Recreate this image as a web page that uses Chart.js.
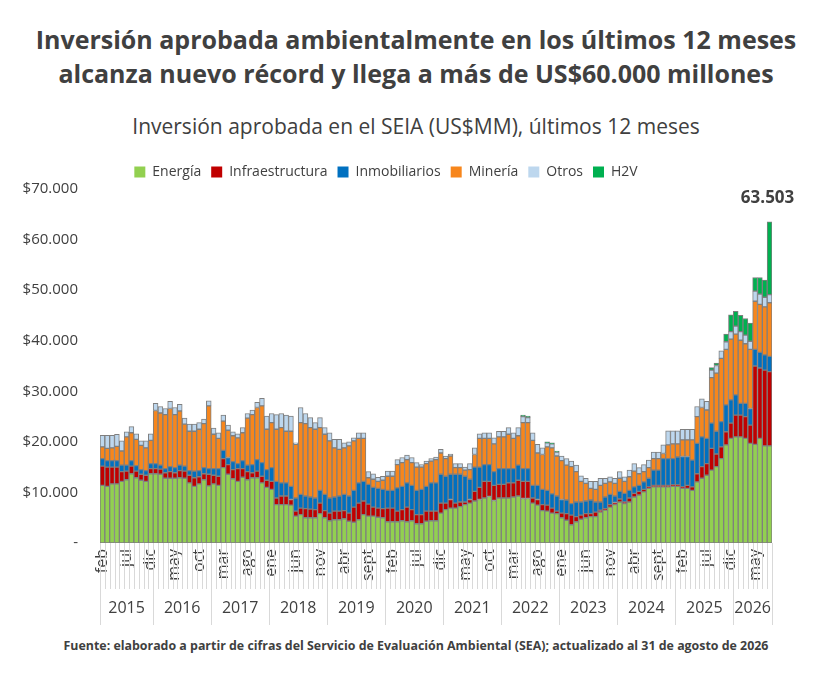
<!DOCTYPE html>
<html><head><meta charset="utf-8">
<script src="https://cdn.jsdelivr.net/npm/chart.js@4"></script>
<style>
body{margin:0;width:832px;height:686px;background:#fff;font-family:"Open Sans",sans-serif;position:relative;overflow:hidden}
#t{position:absolute;top:22px;left:0;width:832px;text-align:center;font-weight:700;font-size:25px;line-height:34px;color:#404040}
#s{position:absolute;top:112px;left:0;width:832px;text-align:center;font-size:21px;color:#404040}
#f{position:absolute;top:637px;left:0;width:832px;text-align:center;font-weight:700;font-size:12.4px;color:#404040}
#w{position:absolute;top:155px;left:0;width:832px;height:475px}
</style></head><body>
<div id="t">Inversión aprobada ambientalmente en los últimos 12 meses<br>alcanza nuevo récord y llega a más de US$60.000 millones</div>
<div id="s">Inversión aprobada en el SEIA (US$MM), últimos 12 meses</div>
<div id="w"><canvas id="c"></canvas></div>
<div id="f">Fuente: elaborado a partir de cifras del Servicio de Evaluación Ambiental (SEA); actualizado al 31 de agosto de 2026</div>
<script>
const monthNames=['ene','feb','mar','abr','may','jun','jul','ago','sept','oct','nov','dic'];
const years=[2015,2016,2017,2018,2019,2020,2021,2022,2023,2024,2025,2026];
const firstMonth=1, nBars=139;
const seriesNames=['Energía','Infraestructura','Inmobiliarios','Minería','Otros','H2V'];
// values in thousands of US$MM
const energia=[11.4,11.2,11.7,11.7,12.2,12.5,13.7,12.9,12.4,12.2,13.7,
13.7,13.6,12.8,12.8,12.8,12.9,12.8,11.9,11.2,11.7,12.5,11.3,11.7,11.4,
14.9,13.6,12.7,12.2,13.0,12.5,12.9,12.9,11.9,11.0,10.6,7.6,7.6,7.6,7.5,5.3,5.6,5.0,5.0,5.0,5.8,5.0,4.4,4.6,
4.6,4.8,4.3,4.1,4.6,5.6,5.3,5.3,5.1,5.0,4.2,4.2,4.2,4.4,4.2,4.4,3.8,3.8,4.3,4.4,4.4,5.9,6.6,6.9,
6.9,7.2,7.6,7.9,8.3,8.6,8.9,9.2,8.4,8.9,8.9,8.9,9.1,9.3,8.8,8.8,7.9,7.5,6.4,6.3,5.9,5.8,5.0,
4.5,3.6,4.2,4.7,5.0,5.2,5.2,6.1,6.5,7.1,7.6,8.1,7.8,8.1,9.1,9.5,10.1,10.8,11.1,11.1,11.1,11.1,11.2,11.2,10.8,10.8,10.4,12.1,12.8,13.4,
14.4,15.1,16.7,19.4,20.7,21.0,21.0,20.7,19.7,19.5,20.7,19.2,19.2];
const infraestructura=[3.8,3.8,3.3,3.3,1.9,1.7,1.5,1.3,1.2,1.2,1.0,
1.0,1.0,1.1,1.3,1.1,1.4,1.4,1.5,1.7,1.4,1.2,2.3,1.7,1.8,
1.8,1.9,1.8,2.5,1.7,1.6,1.0,1.3,1.3,1.4,1.6,1.3,1.7,1.7,1.1,1.0,1.3,1.8,1.7,1.6,2.1,1.4,1.5,1.7,
1.7,1.6,1.6,3.0,3.3,2.7,2.4,1.8,1.8,1.8,2.7,2.7,2.1,2.2,2.9,2.2,1.8,1.8,2.0,1.9,1.9,2.0,1.3,1.7,
1.0,0.9,0.5,0.7,1.9,2.4,3.3,3.0,3.0,2.7,2.7,3.0,2.8,3.1,3.4,3.4,1.0,1.1,1.2,1.2,1.0,0.5,0.9,
1.3,1.9,1.0,0.8,0.8,0.6,0.9,0.4,0.3,0.5,0.4,0.6,0.3,0.8,0.7,0.7,0.5,0.3,0.3,0.3,0.3,0.3,0.3,0.3,0.3,0.6,0.7,1.6,2.3,2.3,
4.3,2.5,2.3,2.6,3.0,4.3,4.3,4.3,3.6,15.5,13.9,15.0,14.7];
const inmobiliarios=[1.5,1.3,1.3,1.3,1.3,1.2,1.1,1.1,0.9,0.9,1.0,
1.0,0.8,0.8,1.0,1.0,1.1,1.0,0.9,1.3,1.2,1.2,1.1,1.3,1.5,
1.6,1.4,1.6,1.0,1.6,1.3,1.6,2.3,2.7,2.1,2.7,3.3,2.6,2.6,2.6,2.6,2.7,2.5,2.4,2.3,2.5,3.2,3.0,2.8,
3.0,3.2,3.4,3.3,4.0,3.9,3.9,3.9,3.9,3.8,3.5,3.5,4.6,4.6,4.8,4.8,4.8,5.0,4.9,5.6,5.6,5.7,5.3,5.0,
5.7,5.5,5.1,4.0,4.8,4.0,3.3,3.3,2.7,3.1,3.1,2.8,2.8,3.0,2.5,2.5,2.5,2.8,3.0,2.9,2.8,3.0,2.7,
2.7,2.3,2.9,2.6,2.5,2.7,2.0,1.6,2.3,2.0,1.3,1.5,1.7,1.5,1.3,1.2,1.5,1.7,3.0,3.0,5.3,5.3,5.2,5.5,6.0,5.7,5.3,6.0,5.9,5.0,
5.0,4.5,5.0,5.3,4.6,4.0,2.3,2.6,3.3,3.3,3.1,3.0,3.0];
const mineria=[2.3,2.4,2.5,2.8,2.8,5.6,5.5,5.2,4.8,4.5,4.6,
10.5,10.3,10.7,11.5,10.5,10.7,8.3,7.8,7.9,8.2,8.7,12.4,6.8,6.0,
5.8,5.4,5.1,5.1,5.5,9.3,9.9,10.3,11.2,8.0,8.9,10.3,10.9,10.2,10.9,10.6,14.2,14.3,13.7,13.6,12.4,11.9,11.3,9.7,
9.2,9.2,9.9,9.8,8.8,8.5,1.3,1.6,1.4,1.8,2.8,2.8,4.6,4.7,4.6,4.5,4.6,4.4,4.5,4.3,4.6,4.2,3.5,3.6,
1.3,1.3,1.2,1.9,2.5,5.7,5.2,5.2,5.5,6.3,6.3,6.8,6.0,5.8,9.1,9.1,8.9,6.4,6.9,8.6,9.1,7.9,7.7,
6.9,7.3,6.0,4.1,3.5,2.3,2.5,3.3,2.7,2.5,2.5,2.6,2.4,2.7,3.1,2.3,2.0,2.1,2.3,2.3,1.0,2.7,2.9,2.6,3.3,3.3,4.0,5.3,5.8,5.6,
9.0,11.5,12.5,11.0,12.0,12.0,12.5,11.8,11.7,9.5,9.5,9.5,10.6];
const otros=[2.3,2.6,2.5,2.4,2.0,1.0,1.2,1.1,0.9,1.4,1.3,
1.4,1.3,1.2,1.4,1.4,1.3,1.2,1.4,1.4,1.3,0.9,1.0,1.2,1.1,
1.2,1.0,0.8,0.8,1.0,0.9,0.9,1.0,1.5,2.6,1.8,2.9,2.8,3.2,3.0,0.3,3.0,2.0,2.0,1.3,2.0,1.3,1.6,1.7,
2.0,1.0,0.8,0.6,1.1,1.1,1.2,1.1,0.8,0.8,1.0,1.0,1.0,1.0,0.9,1.0,0.9,0.5,0.5,0.5,0.5,0.7,0.5,0.4,
0.8,0.8,0.6,1.2,1.3,0.9,1.1,1.1,1.2,1.1,1.1,1.3,1.1,1.6,1.2,1.0,1.5,1.7,1.3,0.8,0.8,0.8,0.9,
1.3,1.1,1.3,1.1,1.0,1.4,1.6,1.4,1.0,1.0,1.0,1.3,0.9,1.3,1.5,1.2,1.4,1.5,1.3,1.3,1.7,2.8,2.6,2.6,2.1,2.1,2.1,2.0,1.7,1.7,
1.5,1.5,1.5,1.5,1.5,1.6,1.7,1.7,1.6,2.0,2.0,1.9,1.6];
const h2v=[0,0,0,0,0,0,0,0,0,0,0,
0,0,0,0,0,0,0,0,0,0,0,0,0,0,
0,0,0,0,0,0,0,0,0,0,0,0,0,0,0,0,0,0,0,0,0,0,0,0,
0,0,0,0,0,0,0,0,0,0,0,0,0,0,0,0,0,0,0,0,0,0,0,0,
0,0,0,0,0,0,0,0,0,0,0,0,0,0,0.3,0.3,0,0,0,0.2,0.2,0.2,0,
0,0,0,0,0,0,0,0,0,0,0,0,0,0,0,0,0,0,0,0,0,0,0,0,0,0,0,0,0,0,
0.5,0.5,0,1.5,3.3,2.9,3.2,3.3,3.6,2.7,3.3,3.4,14.403];
const colors=['#92d050','#c00000','#0070c0','#f7861c','#bdd7ee','#00b050'];

const labels=[];const yearIdx=[];
for(let i=0;i<nBars;i++){const m=(firstMonth+i)%12;const y=years[Math.floor((firstMonth+i)/12)];labels.push(monthNames[m]);yearIdx.push(y);}
const dataSets=[energia,infraestructura,inmobiliarios,mineria,otros,h2v].map((d,k)=>({
 label:seriesNames[k],data:d.map(v=>v*1000),backgroundColor:colors[k],borderColor:'#7f7f7f',borderWidth:1,borderSkipped:false,
 barPercentage:1,categoryPercentage:1}));

const axisDeco={id:'axisDeco',afterDraw(ch){
 const c=ch.ctx,x=ch.scales.x,a=ch.chartArea,b=a.bottom;
 const half=(x.getPixelForValue(1)-x.getPixelForValue(0))/2;
 c.save();c.strokeStyle='#d9d9d9';c.lineWidth=1;
 for(let i=0;i<=nBars;i++){const px=Math.round(x.getPixelForValue(i)-half)+0.5;
  const yr=i===0||i===nBars||yearIdx[i]!==yearIdx[i-1];
  c.beginPath();c.moveTo(px,b);c.lineTo(px,b+(yr?82:46));c.stroke();}
 c.fillStyle='#404040';c.font='16px "Liberation Sans Narrow", "Open Sans", sans-serif';c.textAlign='center';c.textBaseline='middle';
 years.forEach(y=>{const idx=yearIdx.map((v,i)=>v===y?i:-1).filter(i=>i>=0);
  const l=x.getPixelForValue(idx[0])-half,r=x.getPixelForValue(idx[idx.length-1])+half;
  c.fillText(String(y),(l+r)/2,b+65);});
 const last=nBars-1;let tot=0;ch.data.datasets.forEach(d=>tot+=d.data[last]);
 c.font='bold 17px "Open Sans", sans-serif';c.textBaseline='bottom';
 c.fillText(Math.round(tot).toLocaleString('es-CL'),x.getPixelForValue(last)-2,ch.scales.y.getPixelForValue(tot)-15);
 c.restore();}};

new Chart(document.getElementById('c'),{type:'bar',data:{labels,datasets:dataSets},
 options:{responsive:true,maintainAspectRatio:false,animation:false,
  layout:{padding:{left:0,right:60,top:0,bottom:41}},
  plugins:{legend:{position:'top',labels:{boxWidth:11,boxHeight:11,padding:10,color:'#404040',font:{size:14,family:'"Open Sans", sans-serif'},
    generateLabels(ch){return ch.data.datasets.map((d,i)=>({text:d.label,fillStyle:d.backgroundColor,strokeStyle:d.backgroundColor,lineWidth:0,datasetIndex:i,fontColor:'#404040'}));}}},
   tooltip:{enabled:false}},
  scales:{x:{stacked:true,grid:{display:false,drawTicks:false},border:{display:false},
    ticks:{autoSkip:false,maxRotation:90,minRotation:90,padding:6,color:'#404040',font:{size:16,family:'"Open Sans", sans-serif'},
     callback:(v,i)=>i%5===0?labels[i]:''},
    afterFit(s){s.height=46;}},
   y:{stacked:true,min:0,max:70000,grid:{display:false},border:{display:false},
    ticks:{stepSize:10000,padding:14,color:'#404040',font:{size:15,family:'"Open Sans", sans-serif'},
     callback:v=>v===0?'-':'$'+v.toLocaleString('es-CL')},
    afterFit(s){s.width=100;}}}},
 plugins:[axisDeco]});
</script></body></html>
